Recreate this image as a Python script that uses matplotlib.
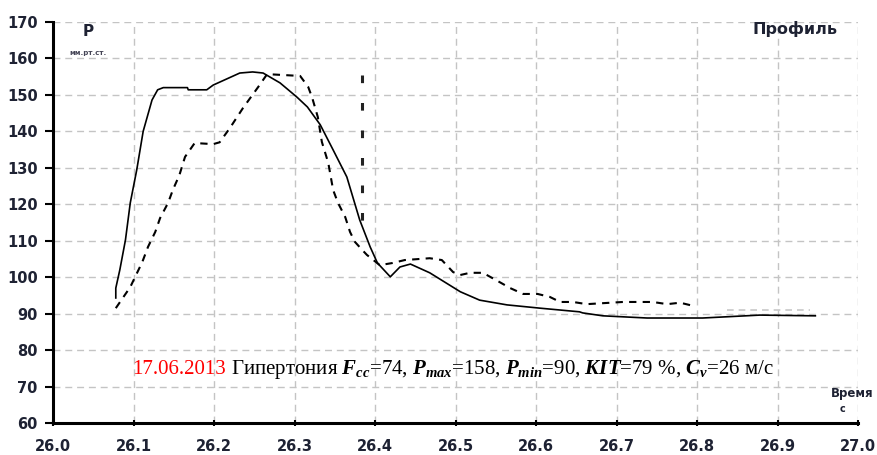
import numpy as np
import matplotlib
matplotlib.use('Agg')
import matplotlib.pyplot as plt

plt.rcParams['mathtext.fontset'] = 'custom'
plt.rcParams['mathtext.it'] = 'Liberation Serif:italic:bold'
plt.rcParams['mathtext.rm'] = 'Liberation Serif'
plt.rcParams['mathtext.bf'] = 'Liberation Serif:italic:bold'

# pressure profile, solid line
t_solid = [26.078, 26.078, 26.083, 26.090, 26.096, 26.104, 26.112, 26.123, 26.130, 26.137,
           26.167, 26.168, 26.191, 26.199, 26.232, 26.248, 26.261, 26.282, 26.303, 26.316,
           26.332, 26.348, 26.365, 26.381, 26.394, 26.403, 26.419, 26.431, 26.444, 26.468,
           26.506, 26.530, 26.564, 26.605, 26.654, 26.658, 26.683, 26.738, 26.807, 26.878, 26.947]
p_solid = [94.3, 97.0, 102.0, 110.2, 120.4, 129.4, 140.0, 148.6, 151.4, 152.0,
           152.0, 151.4, 151.4, 152.7, 156.0, 156.3, 156.0, 153.3, 149.4, 146.7,
           141.8, 134.9, 127.5, 115.7, 108.3, 103.9, 100.1, 102.8, 103.6, 101.2,
           96.0, 93.7, 92.4, 91.5, 90.5, 90.2, 89.4, 88.8, 88.8, 89.6, 89.4]

# second profile, dashed line
t_dash = [26.078, 26.096, 26.111, 26.118, 26.127, 26.133, 26.143, 26.149, 26.157, 26.164,
          26.176, 26.199, 26.207, 26.220, 26.236, 26.255, 26.266, 26.307, 26.317, 26.322,
          26.329, 26.334, 26.342, 26.348, 26.354, 26.363, 26.369, 26.375, 26.384, 26.390,
          26.406, 26.422, 26.437, 26.468, 26.483, 26.497, 26.506, 26.518, 26.534, 26.552,
          26.568, 26.584, 26.602, 26.617, 26.630, 26.646, 26.663, 26.708, 26.745, 26.763,
          26.779, 26.794]
p_dash = [91.5, 97.3, 104.2, 108.3, 112.4, 116.2, 120.4, 124.0, 128.0, 133.0,
          136.8, 136.5, 137.0, 141.0, 146.4, 152.2, 155.7, 155.2, 152.2, 149.2,
          143.9, 137.1, 131.3, 123.9, 120.4, 116.5, 112.4, 109.7, 107.5, 106.1,
          103.3, 103.9, 104.7, 105.2, 104.7, 101.4, 100.6, 101.2, 101.2, 99.0,
          97.0, 95.4, 95.4, 94.6, 93.2, 93.2, 92.6, 93.2, 93.2, 92.6,
          93.0, 92.2]

# vertical marker and faint tail
t_mark = [26.384, 26.384]
p_mark = [155.5, 113.0]
t_tail = [26.837, 26.940]
p_tail = [91.0, 91.0]

x_ticks = [26.0, 26.1, 26.2, 26.3, 26.4, 26.5, 26.6, 26.7, 26.8, 26.9, 27.0]
y_ticks = [60, 70, 80, 90, 100, 110, 120, 130, 140, 150, 160, 170]

fig = plt.figure(figsize=(8.77, 4.55), dpi=100)
ax = fig.add_axes([53 / 877, 1 - 423 / 455, 805 / 877, 401 / 455])

for x in x_ticks[1:]:
    ax.axvline(x, color='#c4c4c4', lw=1.0, dashes=(5, 3.5), zorder=0)
for y in y_ticks[1:]:
    ax.axhline(y, color='#c4c4c4', lw=1.0, dashes=(5, 3.5), zorder=0)

ax.plot(t_solid, p_solid, color='black', lw=1.2)
ax.plot(t_dash, p_dash, color='black', lw=1.5, dashes=(3.5, 3))
ax.plot(t_mark, p_mark, color='#222222', lw=2.2, dashes=(2.5, 6.5))
ax.plot(t_tail, p_tail, color='#c8c8c8', lw=1.2, dashes=(4, 3))

ax.set_xlim(26.0, 27.0)
ax.set_ylim(60, 170)
ax.set_xticks(x_ticks)
ax.set_yticks(y_ticks)
ax.set_xticklabels(['%.1f' % v for v in x_ticks])
for s in ['top', 'right']:
    ax.spines[s].set_visible(False)
for s in ['left', 'bottom']:
    ax.spines[s].set_linewidth(2.2)
ax.tick_params(axis='y', direction='out', length=6, width=1.5, pad=5)
ax.tick_params(axis='x', direction='inout', length=5, width=1.5, pad=9)
lab_color = '#1e2233'
for lab in ax.get_xticklabels() + ax.get_yticklabels():
    lab.set_fontfamily('DejaVu Sans')
    lab.set_fontweight('bold')
    lab.set_fontsize(10.5)
    lab.set_color(lab_color)

fig.text(88 / 877, 1 - 32 / 455, 'P', fontsize=11, fontweight='bold', color=lab_color,
         ha='center', va='center')
fig.text(88 / 877, 1 - 53 / 455, 'мм.рт.ст.', fontsize=5, fontweight='bold', color='#444455',
         ha='center', va='center')
fig.text(838 / 877, 1 - 29 / 455, 'Профиль', fontsize=11.5, fontweight='bold', color=lab_color,
         ha='right', va='center')
fig.text(873 / 877, 1 - 394 / 455, 'Время', fontsize=8.5, fontweight='bold', color=lab_color,
         ha='right', va='center')
fig.text(843 / 877, 1 - 409 / 455, 'с', fontsize=7, fontweight='bold', color=lab_color,
         ha='center', va='center')

# caption: red date, then the rest on the same baseline
base_x, base_y = 132 / 877, 1 - 374 / 455
t1 = fig.text(base_x, base_y, '17.06.2013', color='red', fontsize=15,
              fontfamily='Liberation Serif', ha='left', va='baseline')
fig.canvas.draw()
w = t1.get_window_extent().width / fig.bbox.width
fig.text(base_x + w + 5 / 877, base_y,
         'Гипертония $F_{cc}$=74, $P_{max}$=158, $P_{min}$=90, $KIT$=79 %, $C_v$=26 м/с',
         color='black', fontsize=15, fontfamily='Liberation Serif', ha='left', va='baseline')

fig.savefig('out.png', dpi=100)
